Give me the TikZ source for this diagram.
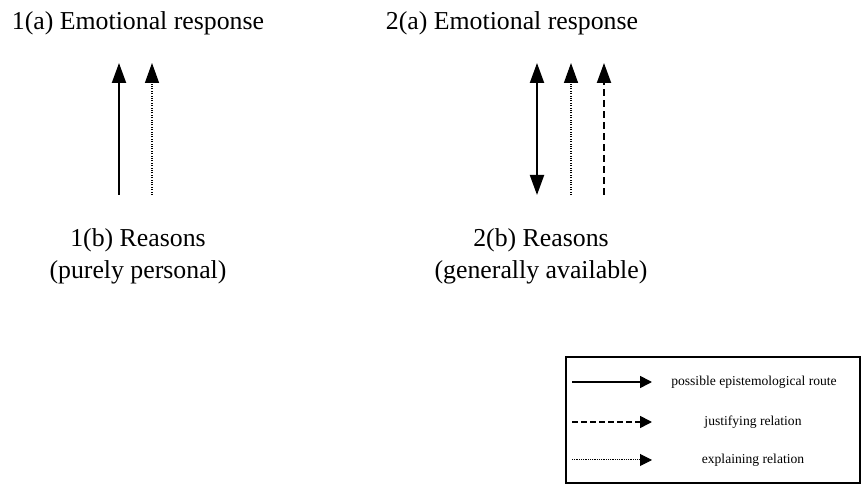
\documentclass[tikz,border=0pt]{standalone}
\usepackage{fontspec}
\setmainfont{Liberation Serif}
\usetikzlibrary{arrows.meta}

\tikzset{
  route/.style={line width=1pt},
  justify/.style={line width=1pt, dash pattern=on 3.5pt off 2pt},
  explain/.style={line width=0.7pt, dash pattern=on 0.5pt off 0.7pt},
  tip/.style={-{Triangle[length=10pt,width=7pt]}},
  bothtips/.style={{Triangle[length=10pt,width=7pt]}-{Triangle[length=10pt,width=7pt]}},
  keytip/.style={-{Triangle[length=6pt,width=6pt]}},
  label/.style={font=\fontsize{12.9}{16}\selectfont, align=center, inner sep=0pt},
  key/.style={font=\fontsize{6.8}{8}\selectfont, inner sep=0pt}
}

\begin{document}
\begin{tikzpicture}[x=0.5pt,y=-0.5pt]
\useasboundingbox (0,0) rectangle (862,485);

% Case 1
\node[label, anchor=base] (emo1) at (138,30) {1(a) Emotional response};
\node[label, anchor=base] (rea1) at (138,279) {1(b) Reasons\\(purely personal)};
\coordinate (rea1a) at (119,195);
\coordinate (emo1a) at (119,63);
\coordinate (rea1b) at (152,195);
\coordinate (emo1b) at (152,63);
\draw[route, tip] (rea1a) -- (emo1a);
\draw[explain, tip] (rea1b) -- (emo1b);

% Case 2
\node[label, anchor=base] (emo2) at (512,30) {2(a) Emotional response};
\node[label, anchor=base] (rea2) at (541,279) {2(b) Reasons\\(generally available)};
\coordinate (rea2a) at (537,195);
\coordinate (emo2a) at (537,63);
\coordinate (rea2b) at (571,195);
\coordinate (emo2b) at (571,63);
\coordinate (rea2c) at (604,195);
\coordinate (emo2c) at (604,63);
\draw[route, bothtips] (rea2a) -- (emo2a);
\draw[explain, tip] (rea2b) -- (emo2b);
\draw[justify, tip] (rea2c) -- (emo2c);

% Legend
\draw[line width=1pt] (566,357) coordinate (legendnw) rectangle (860,483) coordinate (legendse);
\coordinate (k1s) at (572,382);
\coordinate (k1e) at (652,382);
\coordinate (k2s) at (572,422);
\coordinate (k2e) at (652,422);
\coordinate (k3s) at (572,460);
\coordinate (k3e) at (652,460);
\draw[line width=0.8pt, keytip] (k1s) -- (k1e);
\draw[line width=0.8pt, dash pattern=on 3pt off 1.5pt, keytip] (k2s) -- (k2e);
\draw[line width=0.5pt, dash pattern=on 0.4pt off 0.5pt, keytip] (k3s) -- (k3e);
\node[key, anchor=base] (k1) at (754,386) {possible epistemological route};
\node[key, anchor=base] (k2) at (753,426) {justifying relation};
\node[key, anchor=base] (k3) at (753,464) {explaining relation};
\end{tikzpicture}
\end{document}
